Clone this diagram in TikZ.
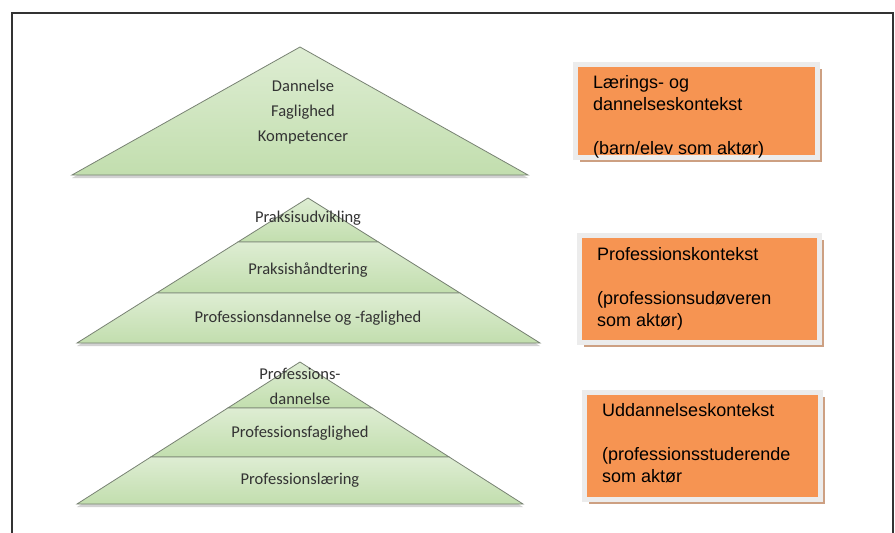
\documentclass[tikz,border=0pt]{standalone}
\usepackage{fontspec}
\setmainfont{Carlito}
\newfontfamily\ctxfont{Liberation Sans}
\usetikzlibrary{calc,shadows}
\definecolor{lvlLight}{RGB}{222,237,211}
\definecolor{lvlDark}{RGB}{194,222,174}
\definecolor{lvlLine}{RGB}{120,130,115}
\definecolor{ctxOrange}{RGB}{246,148,82}
\definecolor{ctxFrame}{RGB}{236,236,236}
\definecolor{ctxShadow}{RGB}{205,160,130}
\tikzset{lvl/.style={top color=lvlLight,bottom color=lvlDark,draw=lvlLine,line width=.8pt},
         lvlshadow/.style={drop shadow={opacity=.35,shadow xshift=0pt,shadow yshift=-3pt}},
         lvltext/.style={font=\fontsize{16.5}{25}\selectfont,align=center,text=black!80},
         ctxbox/.style={fill=ctxOrange,draw=ctxFrame,line width=5pt,
           drop shadow={fill=ctxShadow,opacity=1,shadow xshift=4.5pt,shadow yshift=-4.5pt}},
         ctxtext/.style={anchor=north west,inner sep=0pt,align=left,
           font=\ctxfont\fontsize{18}{22}\selectfont}}

\begin{document}
\begin{tikzpicture}[x=1pt,y=-1pt]
        \useasboundingbox (0,0) rectangle (895,533);
        \fill[white] (0,0) rectangle (895,533);
        \draw[line width=2pt,black!80] (12,533) -- (12,13) -- (893,13) -- (893,533); % frame, open at the bottom

        % top pyramid
        \coordinate (t1a) at (300,47);
        \coordinate (t1l) at (72,175);
        \coordinate (t1r) at (528,175);
        \path[lvlshadow] (t1a) -- (t1r) -- (t1l) -- cycle;
        \draw[lvl] (t1a) -- (t1r) -- (t1l) -- cycle;
        \node[lvltext] (n1) at (303,112) {Dannelse\\Faglighed\\Kompetencer};

        % middle pyramid
        \coordinate (t2a) at (308,198);
        \coordinate (t2l) at (77,343);
        \coordinate (t2r) at (540,343);
        \coordinate (t2l1) at ($(t2a)!.303!(t2l)$);
        \coordinate (t2r1) at ($(t2a)!.303!(t2r)$);
        \coordinate (t2l2) at ($(t2a)!.655!(t2l)$);
        \coordinate (t2r2) at ($(t2a)!.655!(t2r)$);
        \path[lvlshadow] (t2a) -- (t2r) -- (t2l) -- cycle;
        \draw[lvl] (t2a) -- (t2r1) -- (t2l1) -- cycle;
        \draw[lvl] (t2l1) -- (t2r1) -- (t2r2) -- (t2l2) -- cycle;
        \draw[lvl] (t2l2) -- (t2r2) -- (t2r) -- (t2l) -- cycle;
        \node[lvltext] (n2a) at (308,218) {Praksisudvikling};
        \node[lvltext] (n2b) at (308,270) {Praksishåndtering};
        \node[lvltext] (n2c) at (308,318) {Professionsdannelse og -faglighed};

        % bottom pyramid
        \coordinate (t3a) at (300,362);
        \coordinate (t3l) at (77,504);
        \coordinate (t3r) at (523,504);
        \coordinate (t3l1) at ($(t3a)!.324!(t3l)$);
        \coordinate (t3r1) at ($(t3a)!.324!(t3r)$);
        \coordinate (t3l2) at ($(t3a)!.669!(t3l)$);
        \coordinate (t3r2) at ($(t3a)!.669!(t3r)$);
        \path[lvlshadow] (t3a) -- (t3r) -- (t3l) -- cycle;
        \draw[lvl] (t3a) -- (t3r1) -- (t3l1) -- cycle;
        \draw[lvl] (t3l1) -- (t3r1) -- (t3r2) -- (t3l2) -- cycle;
        \draw[lvl] (t3l2) -- (t3r2) -- (t3r) -- (t3l) -- cycle;
        \node[lvltext] (n3a) at (300,386) {Professions-\\dannelse};
        \node[lvltext] (n3b) at (300,433) {Professionsfaglighed};
        \node[lvltext] (n3c) at (300,480) {Professionslæring};

        % context boxes
        \node[ctxbox,minimum width=242pt,minimum height=93pt] (c1) at (696.5,111) {};
        \node[ctxtext] (c1t) at (593,75) {Lærings- og\\dannelseskontekst\\[22pt](barn/elev som aktør)};
        \node[ctxbox,minimum width=240pt,minimum height=107pt] (c2) at (699.5,289) {};
        \node[ctxtext] (c2t) at (597,247) {Professionskontekst\\[22pt](professionsudøveren\\som aktør)};
        \node[ctxbox,minimum width=236pt,minimum height=107pt] (c3) at (702.5,446) {};
        \node[ctxtext] (c3t) at (602,403) {Uddannelseskontekst\\[22pt](professionsstuderende\\som aktør};

      \end{tikzpicture}
\end{document}
